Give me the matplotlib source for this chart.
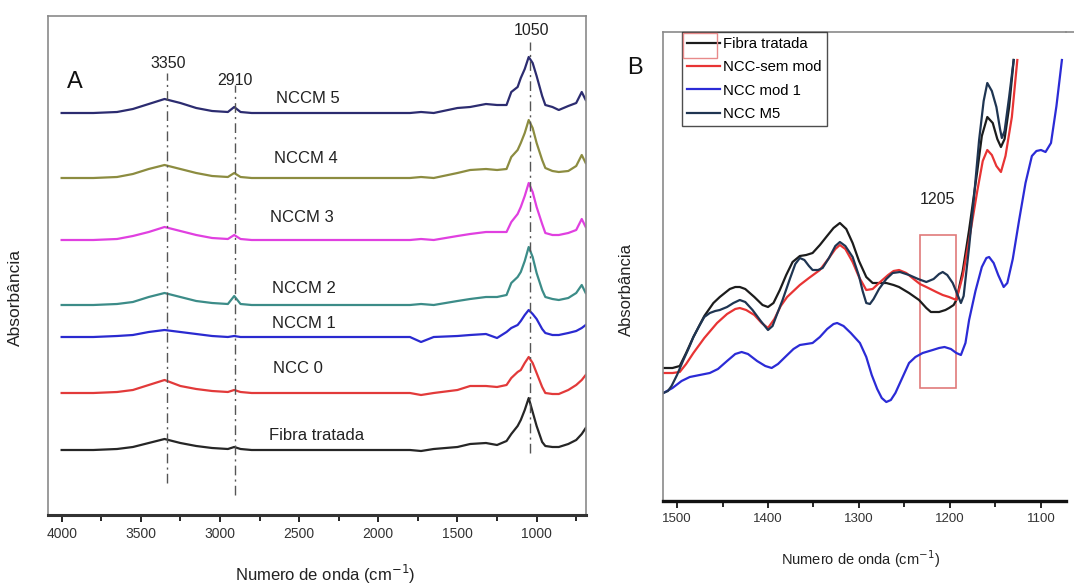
import matplotlib
matplotlib.use("Agg")
import matplotlib.pyplot as plt
from matplotlib import font_manager
from matplotlib.patches import Rectangle
from matplotlib.lines import Line2D
from matplotlib.ticker import MultipleLocator

names = set(font_manager.get_font_names())
FONT = "Liberation Sans Narrow" if "Liberation Sans Narrow" in names else "Liberation Sans"
plt.rcParams["font.family"] = [FONT, "DejaVu Sans"]

# ---------------- Panel A data (arbitrary absorbance units, relative to each baseline) -------------
wn_A = [4000, 3800, 3650, 3550, 3450, 3350, 3250, 3150, 3050, 2950, 2910, 2870, 2800, 2000, 1800,
        1730, 1650, 1500, 1420, 1320, 1250, 1190, 1160, 1120, 1100, 1075, 1050, 1025, 1000, 965,
        945, 900, 860, 800, 750, 715, 690]
nccm5 = [0, 0, 1, 4, 9, 14, 10, 5, 2, 1, 6, 1, 0, 0, 0, 1, 0, 5, 6, 9, 8, 8, 21, 26, 35, 44, 56, 50, 37, 17, 8, 6, 3, 7, 10, 21, 13]
nccm4 = [0, 0, 1, 4, 9, 13, 9, 5, 2, 1, 5, 1, 0, 0, 0, 1, 0, 5, 8, 9, 8, 9, 21, 28, 35, 45, 58, 50, 35, 18, 10, 7, 6, 7, 12, 23, 15]
nccm3 = [0, 0, 1, 4, 8, 13, 9, 5, 2, 1, 5, 1, 0, 0, 0, 1, 0, 4, 6, 8, 8, 8, 18, 26, 33, 44, 57, 48, 33, 16, 7, 5, 5, 7, 10, 21, 13]
nccm2 = [0, 0, 1, 3, 8, 12, 8, 4, 2, 1, 9, 1, 0, 0, 0, 1, 0, 4, 6, 8, 8, 10, 22, 28, 33, 44, 58, 48, 32, 15, 8, 6, 5, 7, 12, 20, 12]
nccm1 = [0, 0, 1, 2, 5, 7, 5, 3, 1, 0, 1, 0, 0, 0, 0, -5, 0, 1, 2, 3, -1, 5, 9, 12, 16, 22, 27, 23, 18, 8, 4, 2, 2, 4, 6, 9, 12]
ncc0 = [0, 0, 1, 3, 8, 13, 7, 4, 2, 1, 3, 1, 0, 0, 0, -2, 0, 3, 7, 7, 6, 8, 15, 21, 23, 30, 36, 30, 20, 6, 0, -1, -1, 3, 8, 13, 18]
fibra = [0, 0, 1, 3, 7, 11, 7, 4, 2, 1, 3, 1, 0, 0, 0, -1, 1, 3, 6, 7, 5, 9, 16, 24, 30, 40, 52, 38, 24, 8, 4, 3, 3, 6, 10, 16, 22]
names_A = ["NCCM 5", "NCCM 4", "NCCM 3", "NCCM 2", "NCCM 1", "NCC 0", "Fibra tratada"]
offsets_A = [402, 337, 275, 210, 178, 122, 65]
colors_A = ["#2c2c70", "#8c8c40", "#e040e0", "#3c8c88", "#2a2ad0", "#e23a3a", "#262626"]
label_pos_A = [(2444, 417), (2457, 357), (2482, 297), (2469, 227), (2469, 192), (2507, 147), (2387, 80)]
peaks_A = [3350, 2910, 1050]
peak_lines_A = [(3335, 32, 442), (2905, 20, 430), (1040, 62, 473)]
peak_text_A = [(3330, 452), (2905, 435), (1030, 485)]

# ---------------- Panel B data -------------
wB_black = [1515, 1505, 1497, 1490, 1482, 1470, 1460, 1453, 1442, 1436, 1431, 1425, 1415, 1406, 1400,
            1394, 1387, 1380, 1373, 1365, 1358, 1351, 1343, 1336, 1328, 1321, 1314, 1307, 1300, 1292,
            1285, 1278, 1270, 1262, 1256, 1245, 1234, 1226, 1221, 1212, 1205, 1201, 1196, 1193, 1186,
            1179, 1170, 1165, 1159, 1153, 1148, 1144, 1140, 1135, 1130]
hB_black = [133, 133, 135, 148, 164, 185, 198, 204, 212, 214, 214, 212, 204, 196, 194,
            198, 211, 226, 239, 245, 246, 248, 256, 264, 273, 278, 272, 258, 240, 224,
            218, 218, 218, 216, 214, 208, 201, 193, 189, 189, 191, 193, 196, 201, 230,
            271, 330, 365, 384, 378, 362, 354, 362, 394, 441]
wB_red = [1515, 1505, 1497, 1490, 1482, 1470, 1456, 1445, 1436, 1431, 1424, 1415, 1407, 1400, 1393,
          1386, 1379, 1372, 1365, 1355, 1343, 1333, 1326, 1321, 1315, 1307, 1300, 1292, 1285, 1278,
          1268, 1262, 1256, 1248, 1240, 1233, 1226, 1215, 1208, 1201, 1193, 1186, 1179, 1170, 1164,
          1159, 1154, 1149, 1144, 1139, 1132, 1126]
hB_red = [128, 128, 129, 137, 148, 163, 178, 187, 192, 193, 191, 186, 178, 173, 182,
          195, 204, 210, 216, 223, 231, 243, 252, 256, 252, 239, 224, 211, 212, 218,
          226, 230, 231, 228, 222, 217, 214, 209, 206, 204, 201, 225, 261, 310, 340,
          351, 346, 335, 329, 345, 384, 441]
wB_blue = [1515, 1505, 1495, 1486, 1475, 1464, 1455, 1445, 1436, 1429, 1422, 1412, 1403, 1396, 1389,
           1380, 1372, 1365, 1358, 1351, 1343, 1335, 1328, 1324, 1317, 1309, 1299, 1292, 1286, 1280,
           1275, 1270, 1265, 1260, 1256, 1250, 1245, 1238, 1230, 1219, 1212, 1206, 1199, 1193, 1188,
           1183, 1179, 1172, 1165, 1160, 1157, 1152, 1147, 1141, 1137, 1131, 1124, 1117, 1110, 1105,
           1100, 1095, 1089, 1083, 1077]
hB_blue = [108, 113, 120, 124, 126, 128, 132, 140, 147, 149, 147, 140, 135, 133, 137,
           145, 152, 156, 157, 158, 164, 172, 177, 178, 175, 168, 158, 144, 126, 112,
           103, 99, 101, 108, 116, 128, 138, 144, 148, 151, 153, 154, 152, 148, 146,
           158, 181, 210, 234, 243, 244, 238, 226, 214, 218, 242, 281, 318, 345, 350,
           351, 349, 358, 395, 441]
wB_navy = [1515, 1510, 1506, 1500, 1493, 1487, 1482, 1475, 1470, 1464, 1458, 1453, 1445, 1438, 1431,
           1425, 1417, 1408, 1400, 1395, 1390, 1384, 1376, 1370, 1365, 1360, 1355, 1351, 1345, 1340,
           1333, 1326, 1321, 1315, 1307, 1300, 1296, 1292, 1288, 1284, 1278, 1270, 1263, 1255, 1245,
           1235, 1226, 1218, 1212, 1208, 1203, 1197, 1192, 1188, 1185, 1179, 1174, 1168, 1163, 1159,
           1154, 1149, 1145, 1143, 1140, 1135, 1130]
hB_navy = [108, 110, 115, 126, 141, 153, 164, 176, 184, 188, 190, 191, 194, 198, 201,
           199, 191, 180, 171, 175, 187, 201, 222, 237, 243, 241, 235, 231, 231, 233,
           243, 255, 259, 255, 244, 225, 210, 198, 197, 202, 212, 222, 228, 229, 226,
           222, 219, 222, 227, 229, 226, 218, 207, 198, 205, 254, 300, 361, 400, 418,
           410, 394, 372, 363, 370, 404, 441]
names_B = ["Fibra tratada", "NCC-sem mod", "NCC mod 1", "NCC M5"]
colors_B = ["#1c1c1c", "#e83434", "#2b2bd6", "#1f3552"]

fig = plt.figure(figsize=(10.74, 5.84), dpi=100)

# ================= Panel A =================
axA = fig.add_axes([47.7 / 1074, 1 - 515 / 584, (585.7 - 47.7) / 1074, (515 - 16) / 584])
series_A = [nccm5, nccm4, nccm3, nccm2, nccm1, ncc0, fibra]
for vals, off, col in zip(series_A, offsets_A, colors_A):
    axA.plot(wn_A, [(v + off) / 100 for v in vals], color=col, lw=1.6, solid_joinstyle="round")
for name, (x, y) in zip(names_A, label_pos_A):
    axA.text(x, y / 100, name, fontsize=12, ha="center", va="center", color="#222222")
for (x, y0, y1) in peak_lines_A:
    axA.plot([x, x], [y0 / 100, y1 / 100], color="#555555", lw=1.0, dashes=(7, 3, 1.5, 3))
for p, (x, y) in zip(peaks_A, peak_text_A):
    axA.text(x, y / 100, str(p), fontsize=11.5, ha="center", va="center", color="#222222")
axA.text(3916, 433 / 100, "A", fontsize=17, ha="center", va="center", color="#111111")
axA.set_xlim(4088, 690)
axA.set_ylim(0, 4.99)
axA.xaxis.set_major_locator(MultipleLocator(500))
axA.xaxis.set_minor_locator(MultipleLocator(250))
axA.tick_params(axis="x", which="major", direction="out", length=5, width=1.2, labelsize=10,
                labelcolor="#333333", pad=4)
axA.tick_params(axis="x", which="minor", direction="out", length=4, width=1.2)
axA.set_yticks([])
for s in ["left", "top", "right"]:
    axA.spines[s].set_color("#8a8a8a")
    axA.spines[s].set_linewidth(1.2)
axA.spines["bottom"].set_color("#333333")
axA.spines["bottom"].set_linewidth(2.2)
fig.text(325 / 1074, 1 - 574 / 584, "Numero de onda (cm$^{-1}$)", fontsize=12, ha="center",
         va="center", color="#222222")
fig.text(15 / 1074, 1 - 297 / 584, "Absorbância", rotation=90, fontsize=12.5, ha="center",
         va="center", color="#222222")

# ================= Panel B =================
axB = fig.add_axes([663 / 1074, 1 - 501 / 584, (1066 - 663) / 1074, (501 - 32) / 584])
series_B = [(wB_black, hB_black), (wB_red, hB_red), (wB_blue, hB_blue), (wB_navy, hB_navy)]
for (w, h), col, name in zip(series_B, colors_B, names_B):
    axB.plot(w, [v / 100 for v in h], color=col, lw=1.6, label=name, solid_joinstyle="round")
axB.add_patch(Rectangle((1232.6, 1.13), 1193.2 - 1232.6, 2.66 - 1.13, fill=False,
                        edgecolor="#e07a7a", lw=1.2))
axB.text(1214, 3.01, "1205", fontsize=11.5, ha="center", va="center", color="#222222")
axB.set_xlim(1515.4, 1072.5)
axB.set_ylim(0, 4.69)
axB.xaxis.set_major_locator(MultipleLocator(100))
axB.xaxis.set_minor_locator(MultipleLocator(50))
axB.tick_params(axis="x", which="major", direction="out", length=5, width=1.2, labelsize=9.5,
                labelcolor="#333333", pad=4)
axB.tick_params(axis="x", which="minor", direction="out", length=4, width=1.2)
axB.set_yticks([])
axB.spines["right"].set_visible(False)
axB.spines["top"].set_color("#8a8a8a")
axB.spines["left"].set_color("#8a8a8a")
axB.spines["top"].set_linewidth(1.2)
axB.spines["left"].set_linewidth(1.2)
axB.spines["bottom"].set_color("#111111")
axB.spines["bottom"].set_linewidth(2.4)
fig.text(861 / 1074, 1 - 559 / 584, "Numero de onda (cm$^{-1}$)", fontsize=10.5, ha="center",
         va="center", color="#222222")
leg = axB.legend(loc="upper left", bbox_to_anchor=(0.047, 1.0), fontsize=10.7, frameon=True,
                 fancybox=False, edgecolor="#222222", handlelength=2.2, handletextpad=0.2,
                 labelspacing=0.62, borderpad=0.35, borderaxespad=0.0)
leg.get_frame().set_linewidth(1.0)
axB.add_patch(Rectangle((0.049, 0.945), 0.084, 0.053, transform=axB.transAxes, fill=False,
                        edgecolor="#e88a8a", lw=1.0, zorder=10))
fig.add_artist(Line2D([1066 / 1074, 1.0], [1 - 32 / 584, 1 - 32 / 584], color="#8a8a8a", lw=1.2))
fig.text(635 / 1074, 1 - 68 / 584, "B", fontsize=17, ha="center", va="center", color="#111111")
fig.text(626 / 1074, 1 - 290 / 584, "Absorbância", rotation=90, fontsize=12, ha="center",
         va="center", color="#222222")

fig.savefig("out.png", dpi=100, facecolor="white")
